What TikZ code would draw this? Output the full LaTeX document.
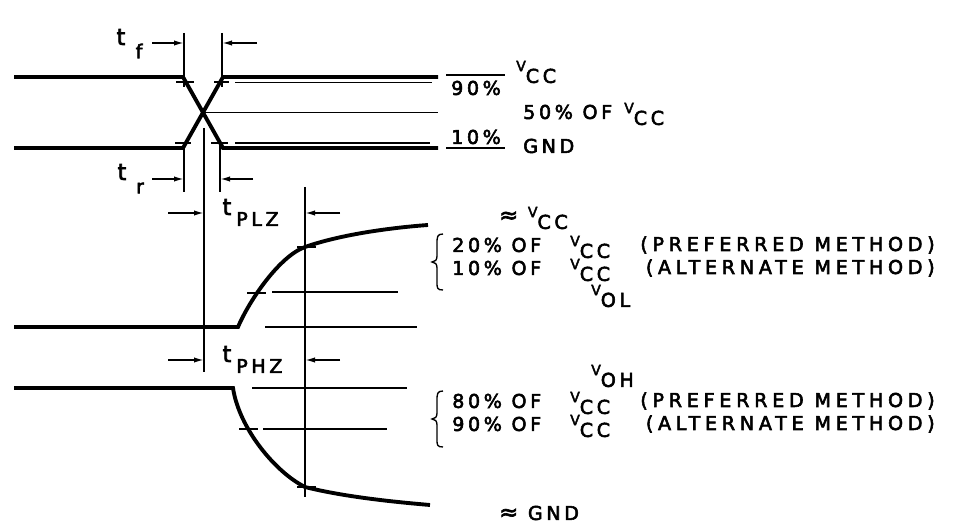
\documentclass[tikz,border=0pt]{standalone}
\usepackage{fontspec}
\setmainfont{DejaVu Sans}[LetterSpace=19,FakeBold=3]
\usetikzlibrary{arrows.meta}
\newcommand{\VS}[1]{\raisebox{0.3em}{\fontsize{10.5pt}{11pt}\selectfont V}\raisebox{-0.32em}{#1}}
\tikzset{
  wave/.style={line width=2.9pt},
  refl/.style={line width=1pt},
  extl/.style={line width=1.2pt},
  dimarr/.style={line width=1.2pt,-{Latex[length=7.5pt,width=4pt]}},
  lbl/.style={inner sep=0pt,font=\fontsize{14.3pt}{16pt}\selectfont},
  mth/.style={lbl,anchor=east,font=\fontsize{14.3pt}{16pt}\selectfont\addfontfeatures{LetterSpace=25}},
  tl/.style={inner sep=0pt,font=\fontsize{17pt}{18pt}\selectfont},
  brc/.pic={\draw[refl] (11,-28) .. controls (5,-28) and (5,-25) .. (5,-18) -- (5,-6)
      .. controls (5,-2) and (3,0) .. (0,0) .. controls (3,0) and (5,2) .. (5,6) -- (5,20)
      .. controls (5,26) and (5,28) .. (11,28);}
}
\begin{document}
\begin{tikzpicture}[x=0.75pt,y=-0.75pt]
\useasboundingbox (0,0) rectangle (971,531);
% ---------------- top: rise / fall ----------------
\coordinate (hL) at (14,77);  \coordinate (a1) at (183,77);
\coordinate (a2) at (223,77); \coordinate (hR) at (438,77);
\coordinate (lL) at (14,148); \coordinate (b1) at (183,148);
\coordinate (b2) at (223,148); \coordinate (lR) at (438,148);
\coordinate (xc) at (203,112.5);
\draw[wave] (hL) -- (a1) -- (b2) -- (lR);
\draw[wave] (lL) -- (b1) -- (a2) -- (hR);
\draw[refl] (235,82.5) -- (432,82.5);
\draw[refl] (xc) -- (438,112.5);
\draw[refl] (235,143) -- (430,143);
% ticks
\draw[extl] (176,82) -- (194,82);  \draw[extl] (214,82) -- (229,82);
\draw[extl] (175,143) -- (191,143); \draw[extl] (211,143) -- (228,143);
% extension lines
\coordinate (ef1) at (184,33); \coordinate (ef1b) at (184,87);
\coordinate (ef2) at (222,33); \coordinate (ef2b) at (222,87);
\coordinate (er1) at (184,142); \coordinate (er1b) at (184,192);
\coordinate (er2) at (220,142); \coordinate (er2b) at (220,192);
\draw[extl] (ef1) -- (ef1b); \draw[extl] (ef2) -- (ef2b);
\draw[extl] (er1) -- (er1b); \draw[extl] (er2) -- (er2b);
% dimension arrows
\coordinate (tfa) at (152,43); \coordinate (tfat) at (184,43);
\coordinate (tfb) at (257,43); \coordinate (tfbt) at (222,43);
\coordinate (tra) at (152,179); \coordinate (trat) at (184,179);
\coordinate (trb) at (253,179); \coordinate (trbt) at (220,179);
\draw[dimarr] (tfa) -- (tfat); \draw[dimarr] (tfb) -- (tfbt);
\draw[dimarr] (tra) -- (trat); \draw[dimarr] (trb) -- (trbt);
\node[tl] (tf1) at (121,37) {t}; \node[lbl] (tf2) at (139,51) {f};
\node[tl] (tr1) at (122,172) {t}; \node[lbl] (tr2) at (140,188) {r};
% top right labels
\node[lbl] (p90) at (476,88) {90\%};
\draw[refl] (446,75) -- (505,75);
\node[lbl,anchor=west] (vcc1) at (516,72) {\VS{CC}};
\node[lbl,anchor=west] (p50) at (523,112) {50\% OF};
\node[lbl,anchor=west] (vcc2) at (624,114) {\VS{CC}};
\node[lbl] (p10) at (476,137) {10\%};
\draw[refl] (446,148) -- (505,148);
\node[lbl,anchor=west] (gnd1) at (523,146) {GND};
% ---------------- t_PLZ / t_PHZ ----------------
\coordinate (v1a) at (204,128); \coordinate (v1b) at (204,372);
\coordinate (v2a) at (305,187); \coordinate (v2b) at (305,497);
\draw[extl] (v1a) -- (v1b); \draw[extl] (v2a) -- (v2b);
\coordinate (pla) at (168,213); \coordinate (plat) at (204,213);
\coordinate (plb) at (340,213); \coordinate (plbt) at (305,213);
\coordinate (pha) at (168,360); \coordinate (phat) at (204,360);
\coordinate (phb) at (340,360); \coordinate (phbt) at (305,360);
\draw[dimarr] (pla) -- (plat); \draw[dimarr] (plb) -- (plbt);
\draw[dimarr] (pha) -- (phat); \draw[dimarr] (phb) -- (phbt);
\node[tl] (tpl1) at (227,207) {t}; \node[lbl,anchor=west] (tpl2) at (236,219) {PLZ};
\node[tl] (tph1) at (227,354) {t}; \node[lbl,anchor=west] (tph2) at (236,366) {PHZ};
% PLZ waveform
\coordinate (q0) at (14,327); \coordinate (q1) at (238,327);
\coordinate (q2) at (305,247); \coordinate (q3) at (428,225);
\draw[wave] (q0) -- (q1) .. controls (250,299) and (280,256) .. (q2)
   .. controls (345,233) and (400,227) .. (q3);
\draw[refl] (272,292) -- (398,292);
\draw[refl] (265,327) -- (417,327);
\draw[extl] (247,293) -- (266,293);
\draw[extl] (297,247) -- (316,247);
% PHZ waveform
\coordinate (r0) at (14,388); \coordinate (r1) at (233,388);
\coordinate (r2) at (305,487); \coordinate (r3) at (430,505);
\draw[wave] (r0) -- (r1) .. controls (239,428) and (275,472) .. (r2)
   .. controls (345,497) and (395,502) .. (r3);
\draw[refl] (252,388) -- (407,388);
\draw[refl] (263,429) -- (387,429);
\draw[extl] (239,429) -- (258,429);
\draw[extl] (297,487) -- (316,487);
% right labels, upper
\node[lbl,anchor=west] (avcc) at (499,218) {{\fontsize{17pt}{17pt}\selectfont ≈} \VS{CC}};
\pic at (432,262) {brc};
\node[lbl,anchor=west] (l20) at (452,245) {20\% OF};
\node[lbl,anchor=west] (l20v) at (570,247) {\VS{CC}};
\node[mth] (l20m) at (935,245) {(PREFERRED METHOD)};
\node[lbl,anchor=west] (l10) at (452,268) {10\% OF};
\node[lbl,anchor=west] (l10v) at (570,270) {\VS{CC}};
\node[mth] (l10m) at (935,268) {(ALTERNATE METHOD)};
\node[lbl,anchor=west] (vol) at (591,296) {\VS{OL}};
% right labels, lower
\node[lbl,anchor=west] (voh) at (591,376) {\VS{OH}};
\pic at (432,419) {brc};
\node[lbl,anchor=west] (l80) at (452,401) {80\% OF};
\node[lbl,anchor=west] (l80v) at (570,403) {\VS{CC}};
\node[mth] (l80m) at (935,401) {(PREFERRED METHOD)};
\node[lbl,anchor=west] (l90) at (452,424) {90\% OF};
\node[lbl,anchor=west] (l90v) at (570,426) {\VS{CC}};
\node[mth] (l90m) at (935,424) {(ALTERNATE METHOD)};
\node[lbl,anchor=west] (agnd) at (499,513) {{\fontsize{17pt}{17pt}\selectfont ≈} GND};
\end{tikzpicture}
\end{document}
